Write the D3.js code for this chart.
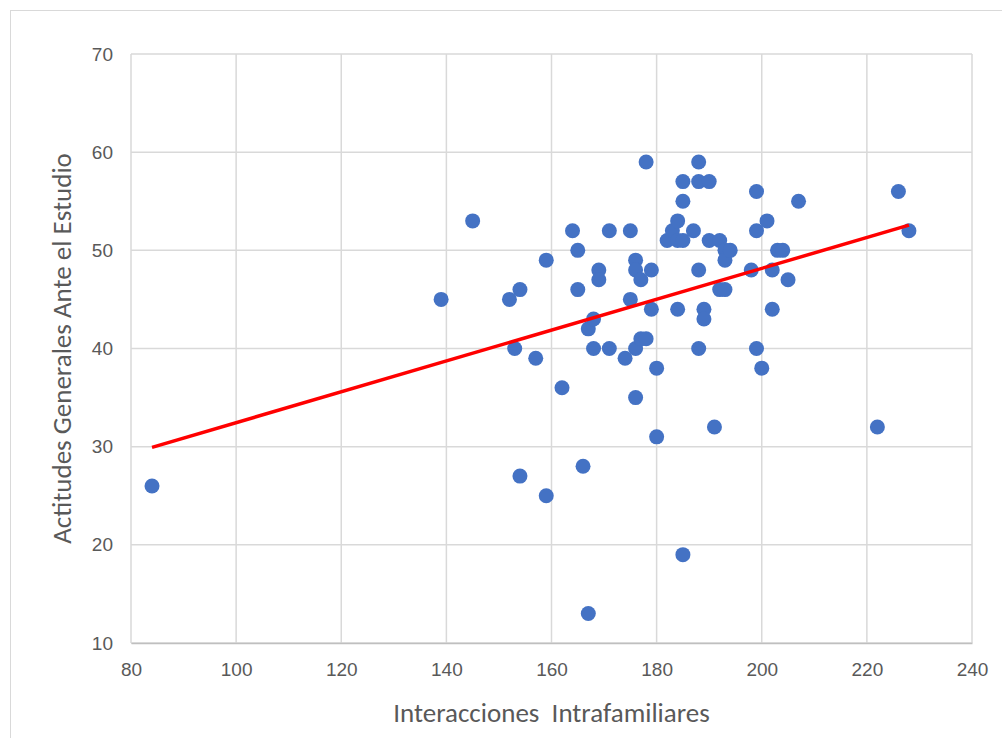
<!DOCTYPE html>
<html>
<head>
<meta charset="utf-8">
<script src="https://cdn.jsdelivr.net/npm/d3@7"></script>
<style>
  body { margin: 0; background: #fff; }
  svg { font-family: Carlito, Calibri, 'Liberation Sans', sans-serif; }
</style>
</head>
<body>
<svg id="chart" width="1002" height="738"></svg>
<script>
// puntos
const interacciones = [84, 139, 145, 152, 153, 154, 154, 157, 159, 159, 162, 164, 165, 165, 166, 167, 167, 168, 168, 169,
  169, 171, 171, 174, 175, 175, 176, 176, 176, 176, 177, 177, 178, 178, 179, 179, 180, 180, 182, 183,
  184, 184, 184, 185, 185, 185, 185, 187, 188, 188, 188, 188, 189, 189, 190, 190, 191, 192, 192, 193,
  193, 193, 194, 198, 199, 199, 199, 200, 201, 202, 202, 203, 204, 205, 207, 222, 226, 228];
const actitudes = [26, 45, 53, 45, 40, 46, 27, 39, 49, 25, 36, 52, 50, 46, 28, 42, 13, 43, 40, 48,
  47, 52, 40, 39, 52, 45, 49, 48, 40, 35, 47, 41, 59, 41, 48, 44, 38, 31, 51, 52,
  53, 51, 44, 57, 55, 51, 19, 52, 59, 57, 48, 40, 44, 43, 57, 51, 32, 51, 46, 50,
  49, 46, 50, 48, 56, 52, 40, 38, 53, 48, 44, 50, 50, 47, 55, 32, 56, 52];
const xTicks = [80, 100, 120, 140, 160, 180, 200, 220, 240];
const yTicks = [10, 20, 30, 40, 50, 60, 70];
const xTitle = 'Interacciones  Intrafamiliares';
const yTitle = 'Actitudes Generales Ante el Estudio';

const svg = d3.select('#chart');
const margin = {top: 54, right: 30, bottom: 95, left: 131};
const width = 1002 - margin.left - margin.right;
const height = 738 - margin.top - margin.bottom;

// marco del grafico
svg.append('rect')
  .attr('x', 10.5).attr('y', 10.5)
  .attr('width', 1002).attr('height', 738)
  .attr('fill', 'none').attr('stroke', '#d9d9d9');

const x = d3.scaleLinear().domain([80, 240]).range([0, width]);
const y = d3.scaleLinear().domain([10, 70]).range([height, 0]);

const g = svg.append('g').attr('transform', `translate(${margin.left},${margin.top})`);

// cuadricula
g.selectAll('.vgrid').data(xTicks).join('line').attr('class', 'vgrid')
  .attr('x1', d => x(d)).attr('x2', d => x(d))
  .attr('y1', 0).attr('y2', height)
  .attr('stroke', '#d9d9d9').attr('stroke-width', 1.5);
g.selectAll('.hgrid').data(yTicks).join('line').attr('class', 'hgrid')
  .attr('x1', 0).attr('x2', width)
  .attr('y1', d => y(d)).attr('y2', d => y(d))
  .attr('stroke', '#d9d9d9').attr('stroke-width', 1.5);

// ejes
const xAxis = d3.axisBottom(x).tickValues(xTicks).tickSize(0).tickPadding(20);
const yAxis = d3.axisLeft(y).tickValues(yTicks).tickSize(0).tickPadding(18);

g.append('g').attr('class', 'xaxis')
  .attr('transform', `translate(0,${height})`)
  .call(xAxis)
  .call(a => a.select('.domain').attr('stroke', '#bfbfbf').attr('stroke-width', 1.5));
g.append('g').attr('class', 'yaxis')
  .call(yAxis)
  .call(a => a.select('.domain').remove());

g.selectAll('.tick text').attr('fill', '#595959').style('font-size', '19px');

// linea de tendencia (minimos cuadrados)
const n = interacciones.length;
const mx = d3.mean(interacciones), my = d3.mean(actitudes);
let sxy = 0, sxx = 0;
for (let i = 0; i < n; i++) {
  sxy += (interacciones[i] - mx) * (actitudes[i] - my);
  sxx += (interacciones[i] - mx) ** 2;
}
const slope = sxy / sxx;
const intercept = my - slope * mx;
const xr = d3.extent(interacciones);

// puntos
g.selectAll('.dot')
  .data(interacciones.map((d, i) => ({x: d, y: actitudes[i]})))
  .join('circle').attr('class', 'dot')
  .attr('cx', d => x(d.x)).attr('cy', d => y(d.y))
  .attr('r', 7.5)
  .attr('fill', '#4472c4');

g.append('line')
  .attr('x1', x(xr[0])).attr('y1', y(intercept + slope * xr[0]))
  .attr('x2', x(xr[1])).attr('y2', y(intercept + slope * xr[1]))
  .attr('stroke', '#ff0000').attr('stroke-width', 3.5);

// titulos
svg.append('text')
  .attr('x', margin.left + width / 2).attr('y', 722)
  .attr('text-anchor', 'middle')
  .attr('fill', '#595959').style('font-size', '27px')
  .style('white-space', 'pre')
  .text(xTitle);

svg.append('text')
  .attr('transform', `translate(71,${margin.top + height / 2}) rotate(-90)`)
  .attr('text-anchor', 'middle')
  .attr('fill', '#595959').style('font-size', '27px')
  .text(yTitle);
</script>
</body>
</html>
